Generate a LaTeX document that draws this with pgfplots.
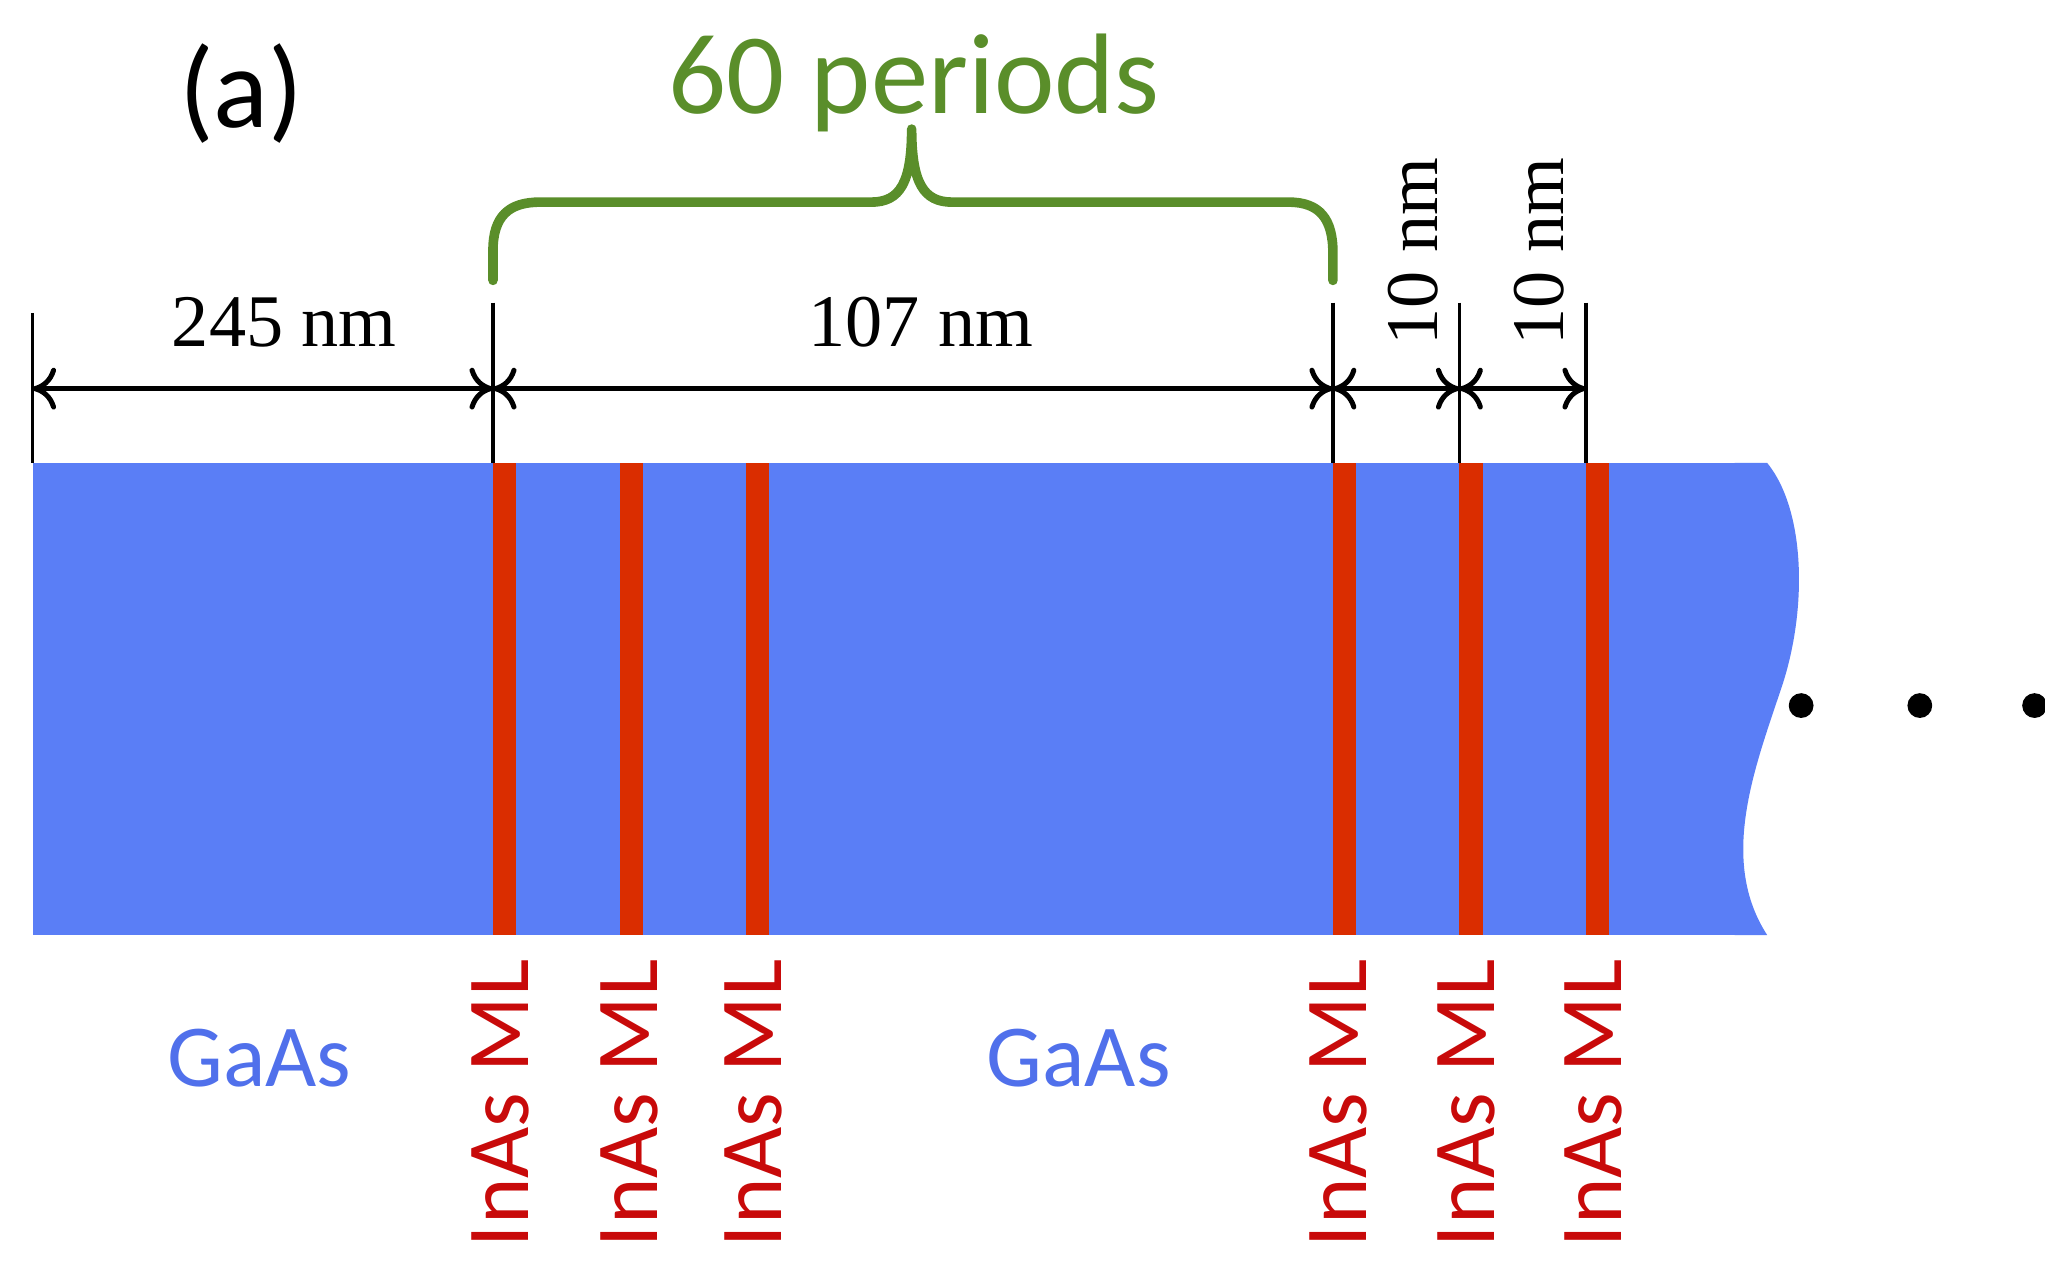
\documentclass[border=0pt]{standalone}
\usepackage{pgfplots}
\pgfplotsset{compat=1.18}
\usepackage{fontspec}
\setmainfont{Liberation Serif}
\newfontfamily\calib{Carlito}
\usetikzlibrary{arrows.meta}
\definecolor{gasblue}{RGB}{90,126,246}
\definecolor{mlred}{RGB}{218,45,0}
\definecolor{txtred}{RGB}{200,10,10}
\definecolor{txtblue}{RGB}{80,112,235}
\definecolor{brgreen}{RGB}{90,142,42}
\tikzset{dimarr/.style={black, line width=1.1pt, {To[length=1.8mm,width=3.2mm]}-{To[length=1.8mm,width=3.2mm]}}}
\begin{document}
\begin{tikzpicture}
\begin{axis}[at={(0,0)}, anchor=south west, scale only axis,
  width=15.68cm, height=9.68cm,
  xmin=0, xmax=1568, ymin=0, ymax=968, y dir=reverse,
  hide axis, clip=false]
% GaAs body
\addplot[fill=gasblue, draw=none] coordinates {(25,355) (1332,355) (1332,717) (25,717)} -- cycle;
\fill[gasblue] (axis cs:1330,355) -- (axis cs:1355,355) .. controls (axis cs:1385,392) and (axis cs:1386,470) .. (axis cs:1365,530)
  .. controls (axis cs:1345,590) and (axis cs:1318,660) .. (axis cs:1355,717) -- (axis cs:1330,717) -- cycle;
% InAs monolayers
\addplot[fill=mlred, draw=none] coordinates {(378,355) (396,355) (396,717) (378,717)} -- cycle;
\addplot[fill=mlred, draw=none] coordinates {(475,355) (493,355) (493,717) (475,717)} -- cycle;
\addplot[fill=mlred, draw=none] coordinates {(572,355) (590,355) (590,717) (572,717)} -- cycle;
\addplot[fill=mlred, draw=none] coordinates {(1022,355) (1040,355) (1040,717) (1022,717)} -- cycle;
\addplot[fill=mlred, draw=none] coordinates {(1119,355) (1137,355) (1137,717) (1119,717)} -- cycle;
\addplot[fill=mlred, draw=none] coordinates {(1216,355) (1234,355) (1234,717) (1216,717)} -- cycle;
% dimension lines
\addplot[black, line width=0.75pt] coordinates {(25,240) (25,355)};
\addplot[black, line width=0.75pt] coordinates {(378,232) (378,355)};
\addplot[black, line width=0.75pt] coordinates {(1022,232) (1022,355)};
\addplot[black, line width=0.75pt] coordinates {(1119,232) (1119,355)};
\addplot[black, line width=0.75pt] coordinates {(1216,232) (1216,355)};
\addplot[dimarr] coordinates {(25,298) (378,298)};
\addplot[dimarr] coordinates {(378,298) (1022,298)};
\addplot[dimarr] coordinates {(1022,298) (1119,298)};
\addplot[dimarr] coordinates {(1119,298) (1216,298)};
% dots
\addplot[only marks, mark=*, mark size=2.5pt, black] coordinates {(1381,541) (1472,541) (1560,541)};
% brace
\draw[brgreen, line width=2.1pt, line cap=round, line join=round]
  (axis cs:378,215) -- (axis cs:378,192) .. controls (axis cs:378,166) and (axis cs:390,155) .. (axis cs:414,155)
  -- (axis cs:668,155) .. controls (axis cs:690,155) and (axis cs:699,140) .. (axis cs:699,99)
  .. controls (axis cs:699,140) and (axis cs:708,155) .. (axis cs:730,155)
  -- (axis cs:988,155) .. controls (axis cs:1012,155) and (axis cs:1022,168) .. (axis cs:1022,194) -- (axis cs:1022,215);
% texts
\node[font=\calib\fontsize{25}{30}\selectfont, anchor=base] at (axis cs:185,98) {(a)};
\node[font=\calib\fontsize{25}{30}\selectfont, text=brgreen, anchor=base] at (axis cs:701,87) {60 periods};
\node[font=\fontsize{16.2}{19}\selectfont, anchor=base] at (axis cs:218,266) {245 nm};
\node[font=\fontsize{16.2}{19}\selectfont, anchor=base] at (axis cs:706,266) {107 nm};
\node[font=\fontsize{16.2}{19}\selectfont, anchor=base, rotate=90] at (axis cs:1102,193) {10 nm};
\node[font=\fontsize{16.2}{19}\selectfont, anchor=base, rotate=90] at (axis cs:1199,193) {10 nm};
\node[font=\calib\fontsize{19.3}{23}\selectfont, text=txtblue, anchor=base] at (axis cs:199,833) {GaAs};
\node[font=\calib\fontsize{19.3}{23}\selectfont, text=txtblue, anchor=base] at (axis cs:827,833) {GaAs};
\node[font=\calib\fontsize{19.3}{23}\selectfont, text=txtred, anchor=base, rotate=90] at (axis cs:405,846) {InAs ML};
\node[font=\calib\fontsize{19.3}{23}\selectfont, text=txtred, anchor=base, rotate=90] at (axis cs:504,846) {InAs ML};
\node[font=\calib\fontsize{19.3}{23}\selectfont, text=txtred, anchor=base, rotate=90] at (axis cs:599,846) {InAs ML};
\node[font=\calib\fontsize{19.3}{23}\selectfont, text=txtred, anchor=base, rotate=90] at (axis cs:1048,846) {InAs ML};
\node[font=\calib\fontsize{19.3}{23}\selectfont, text=txtred, anchor=base, rotate=90] at (axis cs:1146,846) {InAs ML};
\node[font=\calib\fontsize{19.3}{23}\selectfont, text=txtred, anchor=base, rotate=90] at (axis cs:1243,846) {InAs ML};
\end{axis}
\pgfresetboundingbox
\path (0,0) rectangle (15.68cm,9.68cm);
\end{tikzpicture}
\end{document}
